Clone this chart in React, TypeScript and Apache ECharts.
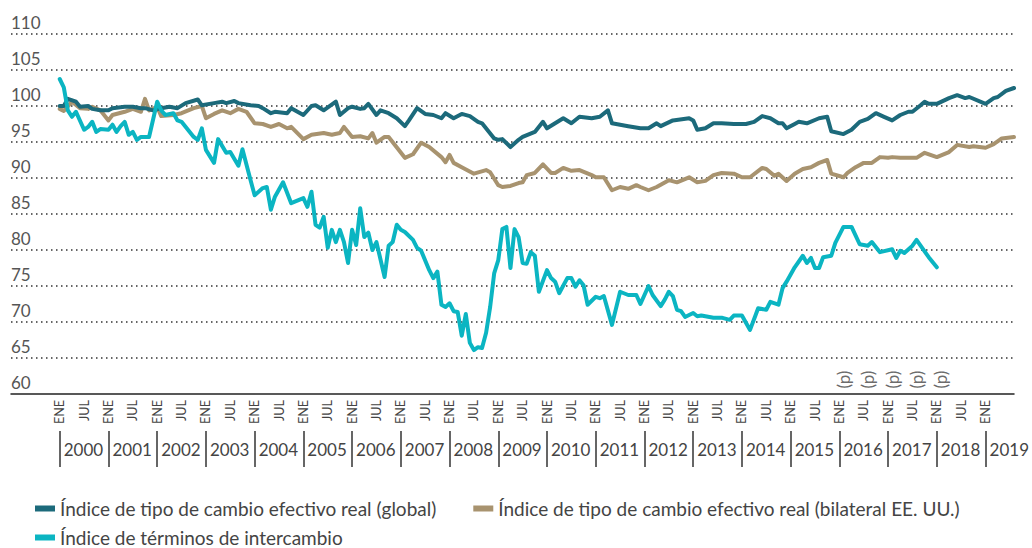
import React, { useEffect, useRef } from 'react';
import * as echarts from 'echarts';

const yearLabels = ['2000', '2001', '2002', '2003', '2004', '2005', '2006', '2007', '2008', '2009', '2010', '2011', '2012', '2013', '2014', '2015', '2016', '2017', '2018', '2019'];
const halfYearLabels = ['ENE', 'JUL'];

const seriesNames = [
  'Índice de tipo de cambio efectivo real (global)',
  'Índice de tipo de cambio efectivo real (bilateral EE. UU.)',
  'Índice de términos de intercambio',
];

// [month index since Jan 2000, value]
const globalRer: [number, number][] = [
  [0, 100], [1, 100], [2, 101], [4, 100.6], [5, 99.9], [7, 100], [8, 99.6], [10, 99.4], [12, 99.4], [13, 99.7],
  [16, 99.9], [18, 99.9], [20, 99.7], [21, 99.7], [23, 99.4], [25, 99.7], [27, 99.9], [29, 99.7], [31, 100.4], [34, 100.9],
  [35, 100.1], [38, 100.4], [40, 100.6], [41, 100.4], [43, 100.7], [44, 100.4], [47, 100.1], [49, 100], [50, 99.7], [52, 99.0],
  [53, 99.2], [56, 99.0], [57, 99.7], [60, 98.75], [62, 100], [63, 100.1], [65, 99.4], [68, 100.6], [69, 98.75], [71, 99.7],
  [72, 99.9], [74, 99.6], [75, 99.7], [76, 100.3], [78, 98.75], [79, 99.4], [81, 99.0], [83, 98.3], [85, 97.2], [86, 98.0],
  [88, 99.7], [90, 98.9], [92, 98.75], [94, 98.3], [95, 99.0], [97, 98.3], [99, 98.9], [101, 98.6], [103, 97.8], [104, 97.6],
  [107, 95.5], [108, 95.3], [109, 95.4], [111, 94.3], [113, 95.3], [114, 95.7], [117, 96.4], [119, 97.8], [120, 96.9], [122, 97.6],
  [124, 98.3], [126, 97.6], [128, 98.5], [131, 98.3], [133, 98.5], [135, 99.4], [136, 97.6], [140, 97.2], [143, 96.9], [145, 96.9],
  [147, 97.6], [148, 97.2], [151, 98.0], [155, 98.3], [156, 98.0], [157, 96.7], [159, 96.9], [161, 97.6], [163, 97.6], [166, 97.5],
  [169, 97.5], [171, 97.8], [173, 98.6], [175, 98.3], [177, 97.6], [178, 97.6], [179, 96.9], [181, 97.5], [182, 97.8], [184, 97.6],
  [187, 98.3], [189, 98.5], [190, 96.5], [193, 96.1], [195, 96.7], [197, 97.8], [199, 98.2], [201, 99.0], [203, 98.5], [205, 98.0],
  [207, 98.75], [209, 99.2], [210, 99.2], [212, 100.1], [213, 100.6], [214, 100.3], [216, 100.3], [219, 101.1], [221, 101.5], [223, 101.1],
  [224, 101.25], [228, 100.3], [230, 101.1], [231, 101.25], [233, 102.1], [235, 102.5],
];

const bilateralRer: [number, number][] = [
  [0, 99.6], [1, 99.3], [3, 100.6], [5, 99.7], [7, 99.6], [8, 99.9], [10, 99.4], [12, 98.0], [13, 98.75], [16, 99.2],
  [18, 99.6], [20, 99.2], [21, 101.0], [22, 99.4], [24, 99.9], [25, 98.6], [28, 98.75], [30, 99.0], [33, 99.7], [35, 100],
  [36, 98.3], [38, 98.9], [40, 99.4], [42, 99.0], [44, 99.6], [46, 99.2], [48, 97.6], [50, 97.5], [52, 97.1], [54, 97.5],
  [56, 96.9], [57, 97.1], [60, 95.4], [62, 96.0], [65, 96.25], [67, 96.0], [69, 96.25], [70, 97.1], [72, 95.7], [74, 95.8],
  [76, 95.5], [77, 96.25], [78, 94.9], [80, 95.7], [81, 95.7], [85, 92.8], [87, 93.3], [89, 94.9], [91, 94.3], [94, 92.9],
  [95, 92.2], [96, 93.2], [97, 92.1], [99, 91.5], [102, 90.6], [105, 91.1], [106, 90.8], [108, 89.0], [109, 88.75], [111, 88.9],
  [113, 89.3], [114, 89.4], [115, 90.4], [117, 90.7], [119, 91.9], [121, 90.7], [122, 90.7], [124, 91.4], [126, 91.0], [128, 91.1],
  [131, 90.4], [132, 90.1], [134, 90.1], [136, 88.3], [138, 88.75], [140, 88.5], [142, 89.0], [143, 88.75], [145, 88.3], [147, 88.75],
  [150, 89.7], [152, 89.4], [155, 90.1], [157, 89.4], [159, 89.6], [161, 90.4], [163, 90.7], [166, 90.6], [168, 90.1], [170, 90.1],
  [173, 91.4], [174, 91.25], [176, 90.3], [177, 90.6], [179, 89.6], [181, 90.6], [183, 91.25], [185, 91.5], [187, 92.1], [189, 92.5],
  [190, 90.6], [193, 90.1], [194, 90.7], [196, 91.5], [198, 92.1], [200, 92.1], [202, 92.9], [204, 92.8], [205, 92.9], [207, 92.8],
  [210, 92.8], [211, 92.8], [213, 93.5], [216, 92.9], [219, 93.6], [221, 94.6], [224, 94.3], [225, 94.4], [228, 94.2], [230, 94.7],
  [232, 95.5], [235, 95.7],
];

const termsOfTrade: [number, number][] = [
  [0, 103.75], [1, 102.6], [2, 99.4], [3, 98.5], [4, 99.2], [6, 96.7], [7, 97.1], [8, 97.8], [9, 96.4], [10, 96.8],
  [12, 96.7], [13, 97.4], [14, 96.4], [15, 97.2], [16, 97.8], [17, 96.0], [18, 96.4], [19, 95.3], [20, 95.7], [22, 95.7],
  [24, 100.6], [25, 99.4], [26, 98.75], [28, 99.0], [29, 98.0], [30, 97.8], [33, 95.7], [34, 95.3], [35, 96.9], [36, 93.9],
  [38, 92.1], [39, 95.4], [41, 93.5], [42, 93.6], [44, 91.7], [45, 94.0], [47, 89.7], [48, 87.6], [50, 88.6], [51, 88.75],
  [52, 85.6], [53, 87.4], [55, 89.4], [57, 86.5], [60, 87.2], [61, 86.0], [62, 88.1], [63, 83.5], [64, 83.1], [65, 84.6],
  [66, 80.3], [67, 82.8], [68, 81.1], [69, 82.8], [70, 81.1], [71, 78.2], [72, 82.8], [73, 80.7], [74, 85.8], [75, 81.8],
  [76, 82.4], [77, 80.0], [78, 81.1], [80, 76.25], [81, 80.6], [82, 81.1], [83, 83.5], [84, 82.8], [85, 82.5], [87, 81.4],
  [88, 80.3], [89, 79.9], [91, 77.2], [92, 76.1], [93, 77.0], [94, 72.4], [95, 72.1], [96, 72.6], [97, 71.5], [98, 71.4],
  [99, 68.1], [100, 71.1], [101, 67.1], [102, 66.1], [103, 66.5], [104, 66.4], [105, 68.5], [106, 72.1], [107, 76.8], [108, 78.6],
  [109, 82.9], [110, 83.2], [111, 77.5], [112, 82.9], [113, 81.8], [114, 78.2], [115, 78.1], [116, 79.7], [117, 79.2], [118, 74.2],
  [120, 77.2], [121, 76.1], [122, 75.6], [123, 74.0], [125, 76.1], [126, 76.1], [127, 74.9], [128, 75.8], [129, 75.1], [130, 72.4],
  [132, 73.5], [133, 73.3], [134, 73.6], [136, 69.6], [138, 74.2], [140, 73.75], [142, 73.75], [143, 72.5], [145, 75.0], [146, 73.75],
  [148, 72.2], [149, 73.1], [150, 74.2], [151, 73.6], [152, 71.7], [153, 71.5], [154, 70.7], [156, 71.25], [157, 70.8], [158, 70.9],
  [161, 70.6], [163, 70.6], [165, 70.3], [166, 70.9], [168, 70.9], [170, 68.9], [172, 71.9], [174, 71.7], [175, 72.8], [177, 72.4],
  [178, 74.7], [179, 75.6], [181, 77.6], [183, 79.2], [184, 78.2], [185, 78.9], [186, 77.5], [187, 77.5], [188, 79.0], [190, 79.2],
  [191, 81.0], [193, 83.2], [195, 83.2], [197, 80.8], [199, 80.6], [200, 81.1], [202, 79.7], [205, 80.1], [206, 78.9], [207, 79.9],
  [208, 79.6], [210, 80.6], [211, 81.4], [214, 79.0], [216, 77.6],
];

const provisionalMonths = [193, 199, 205, 211, 217];

const colors = ['#1c6a7b', '#a8936f', '#0bb5c2'];
const FONT = 'Lato, "Open Sans", sans-serif';

export default function App() {
  const ref = useRef<HTMLDivElement>(null);

  useEffect(() => {
    if (!ref.current) return;
    const chart = echarts.init(ref.current, undefined, { renderer: 'svg' });
    const yearTicks = yearLabels.map((_, i) => i * 12);
    const halfYearTicks: number[] = [];
    for (let i = 0; i <= (yearLabels.length - 1) * 2; i++) halfYearTicks.push(i * 6);

    const lineSeries = (idx: number, data: [number, number][], z: number) => ({
      type: 'line',
      name: seriesNames[idx],
      data,
      xAxisIndex: 0,
      showSymbol: false,
      symbol: 'none',
      z,
      color: colors[idx],
      lineStyle: { width: 4, color: colors[idx], cap: 'round', join: 'round' },
    });

    const legendText = { fontSize: 19, color: '#444', fontFamily: FONT };

    chart.setOption({
      animation: false,
      backgroundColor: '#ffffff',
      textStyle: { fontFamily: FONT },
      grid: { left: 11, right: 16, top: 34, bottom: 154, containLabel: false },
      xAxis: [
        {
          type: 'value',
          min: -12,
          max: 235,
          position: 'bottom',
          axisLine: { show: true, onZero: false, lineStyle: { color: '#222', width: 1.5 } },
          axisTick: { show: false },
          splitLine: { show: false },
          axisLabel: {
            customValues: halfYearTicks,
            formatter: (v: number) => halfYearLabels[Math.round(v / 6) % 2],
            rotate: 90,
            fontSize: 12.5,
            color: '#444',
            margin: 6,
            fontFamily: FONT,
          },
        },
        {
          type: 'value',
          min: -12,
          max: 235,
          position: 'bottom',
          offset: 37,
          axisLine: { show: false },
          axisTick: { show: true, customValues: yearTicks, length: 36, lineStyle: { color: '#333', width: 1.5 } },
          splitLine: { show: false },
          axisLabel: {
            customValues: yearTicks,
            formatter: (v: number) => yearLabels[Math.round(v / 12)],
            align: 'left',
            padding: [0, 0, 0, 4],
            margin: 10,
            fontSize: 17,
            color: '#444',
            fontFamily: FONT,
          },
        },
      ],
      yAxis: {
        type: 'value',
        min: 60,
        max: 110,
        interval: 5,
        axisLine: { show: false },
        axisTick: { show: false },
        splitLine: {
          show: true,
          showMinLine: false,
          lineStyle: { type: [1.5, 3.5], color: '#333', width: 1.5 },
        },
        axisLabel: {
          inside: true,
          margin: 0,
          align: 'left',
          verticalAlign: 'bottom',
          padding: [0, 0, 3, 0],
          fontSize: 17,
          color: '#555',
          fontFamily: FONT,
        },
      },
      legend: [
        {
          left: 30,
          top: 494,
          data: [seriesNames[0], seriesNames[1]],
          icon: 'rect',
          itemWidth: 20,
          itemHeight: 6,
          itemGap: 37,
          textStyle: legendText,
        },
        {
          left: 30,
          top: 523,
          data: [seriesNames[2]],
          icon: 'rect',
          itemWidth: 20,
          itemHeight: 6,
          textStyle: legendText,
        },
      ],
      series: [
        lineSeries(1, bilateralRer, 2),
        lineSeries(0, globalRer, 3),
        lineSeries(2, termsOfTrade, 4),
        {
          type: 'scatter',
          name: 'p',
          xAxisIndex: 0,
          data: provisionalMonths.map((m) => [m, 62]),
          symbolSize: 1,
          itemStyle: { color: 'rgba(0,0,0,0)' },
          label: {
            show: true,
            position: 'inside',
            formatter: '(p)',
            rotate: 90,
            fontSize: 17,
            color: '#444',
            fontFamily: FONT,
          },
          z: 5,
        },
      ],
    });
    return () => chart.dispose();
  }, []);

  return (
    <div
      ref={ref}
      style={{ position: 'fixed', left: 0, top: 0, width: 1032, height: 548, background: '#fff' }}
    />
  );
}
